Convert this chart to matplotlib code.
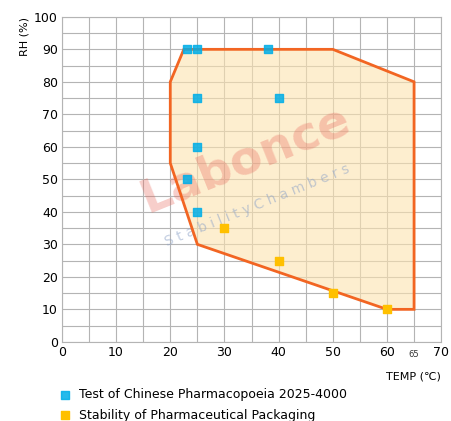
import matplotlib
matplotlib.use('Agg')
import matplotlib.pyplot as plt
from matplotlib.patches import Polygon

plt.rcParams['font.family'] = ['DejaVu Sans', 'Noto Sans CJK SC']

# Zona de operação (temperatura, umidade)
zona_temp = [22.5, 20, 20, 25, 60, 65, 65, 50]
zona_rh = [90, 80, 55, 30, 10, 10, 80, 90]

# Ensaios da farmacopeia chinesa
farm_temp = [23, 25, 38, 25, 40, 25, 23, 25]
farm_rh = [90, 90, 90, 75, 75, 60, 50, 40]

# Estabilidade de embalagens
emb_temp = [30, 40, 50, 60]
emb_rh = [35, 25, 15, 10]

x_ticks = [0, 10, 20, 30, 40, 50, 60, 70]
y_ticks = [0, 10, 20, 30, 40, 50, 60, 70, 80, 90, 100]

fig = plt.figure(figsize=(4.52, 4.21), dpi=100)
ax = fig.add_axes([0.137, 0.188, 0.839, 0.772])

ax.set_xlim(0, 70)
ax.set_ylim(0, 100)
ax.set_xticks(x_ticks)
ax.set_yticks(y_ticks)
ax.set_xticks(range(0, 71, 5), minor=True)
ax.set_yticks(range(0, 101, 5), minor=True)
ax.grid(True, which='both', color='#b4b4b4', lw=0.8)
ax.set_axisbelow(True)
ax.tick_params(which='both', length=0, labelsize=9, pad=3)
for s in ax.spines.values():
    s.set_color('#b4b4b4')
    s.set_linewidth(0.8)

zona = Polygon(list(zip(zona_temp, zona_rh)), closed=True,
               facecolor='#fde3b0', alpha=0.6, edgecolor='none', zorder=2)
ax.add_patch(zona)
borda = Polygon(list(zip(zona_temp, zona_rh)), closed=True,
                facecolor='none', edgecolor='#f26522', lw=2, zorder=3)
ax.add_patch(borda)

# marca d'água
ax.text(34, 56, 'Labonce', fontsize=34, fontweight='bold', color='#e8665a',
        alpha=0.32, rotation=22, ha='center', va='center', zorder=2.5)
ax.text(36, 42, 'S t a b i l i t y C h a m b e r s', fontsize=10,
        color='#8fa4c8', alpha=0.55, rotation=22, ha='center', va='center',
        zorder=2.5)

ax.scatter(farm_temp, farm_rh, marker='s', s=38, color='#00aee8', alpha=0.85,
           zorder=4, label='Test of Chinese Pharmacopoeia 2025-4000')
ax.scatter(emb_temp, emb_rh, marker='s', s=38, color='#ffc000',
           zorder=4, label='Stability of Pharmaceutical Packaging')

ax.text(65, -2.5, '65', fontsize=6, color='#333333', ha='center', va='top')
ax.text(1.0, -0.09, 'TEMP (\u2103)', transform=ax.transAxes, fontsize=8,
        ha='right', va='top')
ax.text(-0.1, 1.0, 'RH (%)', transform=ax.transAxes, fontsize=8,
        rotation=90, ha='center', va='top')

fig.legend(loc='upper left', bbox_to_anchor=(0.105, 0.105), frameon=False,
           fontsize=9, handletextpad=0.6, labelspacing=0.6, handlelength=1)

fig.savefig('out.png', dpi=100)
